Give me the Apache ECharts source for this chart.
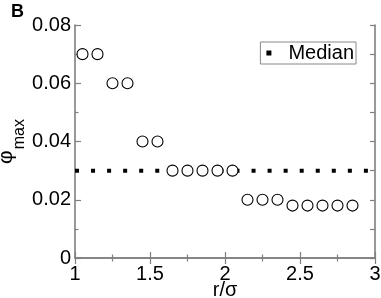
<!DOCTYPE html>
<html>
<head>
<meta charset="utf-8">
<script src="https://cdn.jsdelivr.net/npm/echarts@6/dist/echarts.min.js"></script>
<style>html,body{margin:0;padding:0;background:#fff}#c{width:381px;height:298px}</style>
</head>
<body>
<div id="c"></div>
<script>
const rValues = [1.05,1.15,1.25,1.35,1.45,1.55,1.65,1.75,1.85,1.95,2.05,2.15,2.25,2.35,2.45,2.55,2.65,2.75,2.85];
const phiMax = [0.07,0.07,0.06,0.06,0.04,0.04,0.03,0.03,0.03,0.03,0.03,0.02,0.02,0.02,0.018,0.018,0.018,0.018,0.018];
const medianX = [1, 3];
const medianY = [0.03, 0.03];
const xTicks = [1, 1.5, 2, 2.5, 3];
const yTicks = [0, 0.02, 0.04, 0.06, 0.08];

const FONT = 'Liberation Sans, Arial, Helvetica, sans-serif';
const axisGray = '#7f7f7f';
const chart = echarts.init(document.getElementById('c'), null, {renderer: 'canvas'});

function fmtX(v){ return String(+v.toFixed(2)); }
function fmtY(v){ return v === 0 ? '0' : v.toFixed(2); }

const baseAxisLine = {show: true, lineStyle: {color: axisGray, width: 1.6}};
const tickMajor = {show: true, inside: true, length: 6, lineStyle: {color: axisGray, width: 1.2}};
const tickMinor = {show: true, splitNumber: 2, length: 3.5, lineStyle: {color: axisGray, width: 1.2}};

chart.setOption({
  animation: false,
  backgroundColor: '#fff',
  title: {text: 'B', left: 11, top: 3, padding: 0,
    textStyle: {fontFamily: FONT, fontSize: 18, fontWeight: 'bold', color: '#000'}},
  grid: {left: 75, right: 6, top: 25, bottom: 40, containLabel: false, outerBoundsMode: 'none'},
  legend: {
    data: [{name: 'Median', icon: 'rect'}],
    right: 25, top: 42,
    itemWidth: 5, itemHeight: 5,
    padding: [1, 2, 1, 6],
    borderColor: '#888', borderWidth: 1, borderRadius: 0,
    textStyle: {fontFamily: FONT, fontSize: 20, color: '#000', padding: [0, 0, 0, 12]},
    itemStyle: {color: '#000'}
  },
  xAxis: [{
    type: 'value', min: 1, max: 3, interval: 0.5, position: 'bottom',
    axisLine: baseAxisLine, axisTick: tickMajor, minorTick: tickMinor, splitLine: {show: false},
    axisLabel: {fontFamily: FONT, fontSize: 20, color: '#000', margin: 6, formatter: fmtX,
      customValues: xTicks},
    name: 'r/σ', nameLocation: 'middle', nameGap: 22, nameMoveOverlap: false,
    nameTextStyle: {fontFamily: FONT, fontSize: 20, color: '#000'}
  }, {
    type: 'value', min: 1, max: 3, interval: 0.5, position: 'top',
    axisLine: baseAxisLine, axisTick: tickMajor, minorTick: tickMinor, splitLine: {show: false},
    axisLabel: {show: false}
  }],
  yAxis: [{
    type: 'value', min: 0, max: 0.08, interval: 0.02, position: 'left',
    axisLine: baseAxisLine, axisTick: tickMajor, minorTick: tickMinor, splitLine: {show: false},
    axisLabel: {fontFamily: FONT, fontSize: 20, color: '#000', margin: 4, formatter: fmtY},
    name: '{a|φ}{b|max}', nameLocation: 'middle', nameGap: 47, nameRotate: 90, nameMoveOverlap: false,
    nameTextStyle: {
      rich: {
        a: {fontFamily: FONT, fontSize: 21, color: '#000'},
        b: {fontFamily: FONT, fontSize: 16, color: '#000', padding: [28, 0, 0, 1]}
      }
    }
  }, {
    type: 'value', min: 0, max: 0.08, interval: 0.01, position: 'right',
    axisLine: baseAxisLine, axisTick: {show: true, inside: true, length: 5, lineStyle: {color: axisGray, width: 1.2}},
    splitLine: {show: false}, axisLabel: {show: false}
  }],
  series: [{
    name: 'Median', type: 'line',
    data: medianX.map((x, i) => [x, medianY[i]]),
    symbol: 'none', z: 1,
    lineStyle: {color: '#000', width: 4, type: [4, 12.05], cap: 'butt'},
    itemStyle: {color: '#000'}
  }, {
    name: 'phi', type: 'scatter',
    data: rValues.map((x, i) => [x, phiMax[i]]),
    symbol: 'circle', symbolSize: 11, z: 3,
    itemStyle: {color: '#fff', borderColor: '#000', borderWidth: 1.1, opacity: 1}
  }]
});
</script>
</body>
</html>
